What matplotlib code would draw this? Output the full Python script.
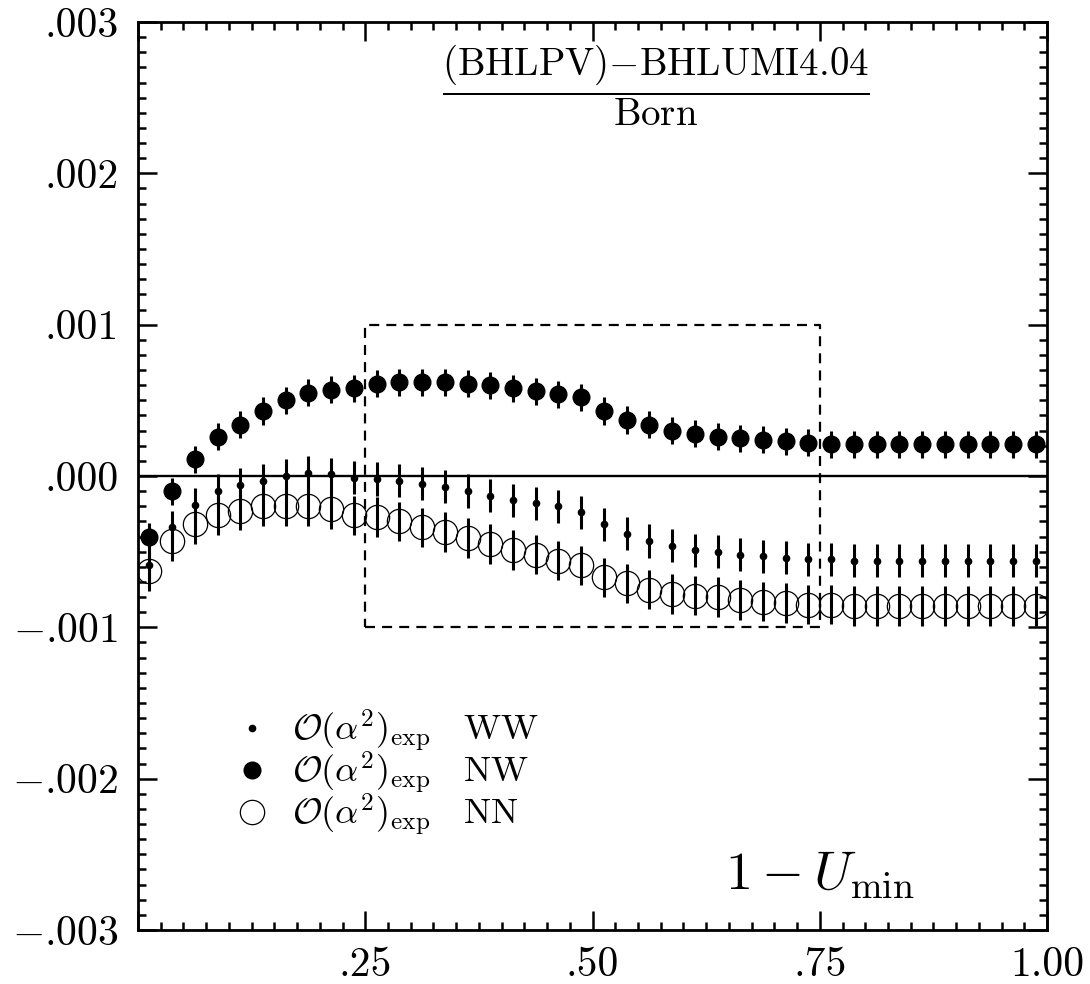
import numpy as np
import matplotlib
matplotlib.use("Agg")
import matplotlib.pyplot as plt
from matplotlib.lines import Line2D
from matplotlib.ticker import MultipleLocator, FixedLocator, FixedFormatter

plt.rcParams['mathtext.fontset'] = 'cm'
plt.rcParams['font.family'] = ['cmr10', 'DejaVu Serif']
plt.rcParams['axes.unicode_minus'] = False

# bin centres in 1 - U_min
x = [0.0125, 0.0375, 0.0625, 0.0875, 0.1125, 0.1375, 0.1625, 0.1875, 0.2125, 0.2375,
     0.2625, 0.2875, 0.3125, 0.3375, 0.3625, 0.3875, 0.4125, 0.4375, 0.4625, 0.4875,
     0.5125, 0.5375, 0.5625, 0.5875, 0.6125, 0.6375, 0.6625, 0.6875, 0.7125, 0.7375,
     0.7625, 0.7875, 0.8125, 0.8375, 0.8625, 0.8875, 0.9125, 0.9375, 0.9625, 0.9875]

# O(alpha^2)_exp WW (small dots)
ww = [-0.00059, -0.00034, -0.00019, -0.00010, -0.00006, -0.00003, 0.00000, 0.00002, 0.00001, -0.00001,
      -0.00002, -0.00003, -0.00005, -0.00007, -0.00010, -0.00013, -0.00016, -0.00018, -0.00020, -0.00024,
      -0.00032, -0.00038, -0.00043, -0.00046, -0.00049, -0.00050, -0.00052, -0.00053, -0.00054, -0.00055,
      -0.00055, -0.00056, -0.00056, -0.00056, -0.00056, -0.00056, -0.00056, -0.00056, -0.00056, -0.00056]
ww_err = [0.00011] * 40

# O(alpha^2)_exp NW (filled circles)
nw = [-0.00040, -0.00010, 0.00011, 0.00026, 0.00034, 0.00043, 0.00050, 0.00055, 0.00057, 0.00058,
      0.00061, 0.00062, 0.00062, 0.00062, 0.00061, 0.00060, 0.00058, 0.00056, 0.00054, 0.00052,
      0.00043, 0.00037, 0.00034, 0.00030, 0.00028, 0.00026, 0.00025, 0.00024, 0.00023, 0.00022,
      0.00021, 0.00021, 0.00021, 0.00021, 0.00021, 0.00021, 0.00021, 0.00021, 0.00021, 0.00021]
nw_err = [0.00009] * 40

# O(alpha^2)_exp NN (open circles)
nn = [-0.00063, -0.00043, -0.00032, -0.00026, -0.00023, -0.00020, -0.00020, -0.00020, -0.00022, -0.00026,
      -0.00027, -0.00030, -0.00034, -0.00037, -0.00041, -0.00045, -0.00049, -0.00052, -0.00056, -0.00059,
      -0.00067, -0.00071, -0.00075, -0.00078, -0.00079, -0.00080, -0.00082, -0.00083, -0.00084, -0.00085,
      -0.00085, -0.00086, -0.00086, -0.00086, -0.00086, -0.00086, -0.00086, -0.00086, -0.00086, -0.00086]
nn_err = [0.00013] * 40

# dashed window
box_x = [0.25, 0.75]
box_y = [-0.001, 0.001]

xticks = [0.25, 0.50, 0.75, 1.00]
xlabels = ['.25', '.50', '.75', '1.00']
yticks = [-0.003, -0.002, -0.001, 0.0, 0.001, 0.002, 0.003]
ylabels = [r'$-$.003', r'$-$.002', r'$-$.001', '.000', '.001', '.002', '.003']

fig = plt.figure(figsize=(10.9, 9.84), dpi=100)
ax = fig.add_axes([0.1266, 0.0549, 0.8340, 0.9227])

ax.axhline(0.0, color='k', lw=1.7, zorder=1)
ax.plot([box_x[0], box_x[1], box_x[1], box_x[0], box_x[0]],
        [box_y[0], box_y[0], box_y[1], box_y[1], box_y[0]],
        color='k', lw=1.6, ls=(0, (4.5, 3.2)), zorder=1)

ekw = dict(ls='none', ecolor='k', elinewidth=2.2, capsize=0, zorder=3)
ax.errorbar(x, nn, yerr=nn_err, marker='o', ms=17.5, mfc='none', mec='k', mew=0.9, **ekw)
ax.errorbar(x, nw, yerr=nw_err, marker='o', ms=12, mfc='k', mec='k', **ekw)
ax.errorbar(x, ww, yerr=ww_err, marker='o', ms=4.5, mfc='k', mec='k', **ekw)

ax.set_xlim(0, 1)
ax.set_ylim(-0.003, 0.003)

ax.xaxis.set_major_locator(FixedLocator([0.0] + xticks))
ax.xaxis.set_major_formatter(FixedFormatter([''] + xlabels))
ax.xaxis.set_minor_locator(MultipleLocator(0.025))
ax.yaxis.set_major_locator(FixedLocator(yticks))
ax.yaxis.set_major_formatter(FixedFormatter(ylabels))
ax.yaxis.set_minor_locator(MultipleLocator(0.0001))

ax.tick_params(which='both', direction='in', top=True, right=True, width=1.8, labelsize=30)
ax.tick_params(which='major', length=14)
ax.tick_params(which='minor', length=5.5)
ax.tick_params(axis='x', pad=12)
ax.tick_params(axis='y', pad=14)
for s in ax.spines.values():
    s.set_linewidth(2.0)

ax.text(0.570, 0.977,
        r'$\dfrac{\mathrm{(BHLPV)}{-}\mathrm{BHLUMI4.04}}{\mathrm{Born}}$',
        transform=ax.transAxes, ha='center', va='top', fontsize=28)
ax.text(0.750, 0.044, r'$1-U_{\mathrm{min}}$', transform=ax.transAxes,
        ha='center', va='baseline', fontsize=39)

handles = [
    Line2D([], [], ls='none', marker='o', ms=4.5, mfc='k', mec='k'),
    Line2D([], [], ls='none', marker='o', ms=12, mfc='k', mec='k'),
    Line2D([], [], ls='none', marker='o', ms=17.5, mfc='none', mec='k', mew=0.9),
]
labels = [r'$\mathcal{O}(\alpha^2)_{\mathrm{exp}}\quad\mathrm{WW}$',
          r'$\mathcal{O}(\alpha^2)_{\mathrm{exp}}\quad\mathrm{NW}$',
          r'$\mathcal{O}(\alpha^2)_{\mathrm{exp}}\quad\mathrm{NN}$']
ax.legend(handles, labels, loc='upper left', bbox_to_anchor=(0.09, 0.261),
          frameon=False, fontsize=26, handlelength=1.0, handletextpad=0.6,
          labelspacing=-0.12, borderaxespad=0)

fig.savefig('out.png', dpi=100)
